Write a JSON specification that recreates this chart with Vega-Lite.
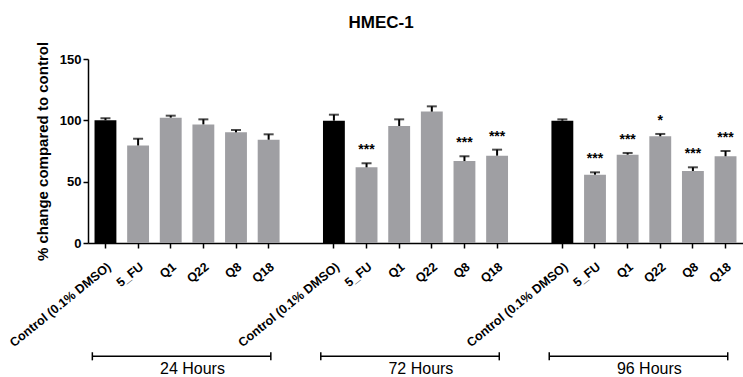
{
  "$schema": "https://vega.github.io/schema/vega-lite/v6.json",
  "padding": {"left": 7, "top": 14, "right": 0, "bottom": 0},
  "title": {"text": "HMEC-1", "font": "Liberation Sans", "fontSize": 17, "fontWeight": "bold", "color": "#000000", "anchor": "middle", "offset": 9, "dx": 6},
  "datasets": {
    "bars": [
      {"key": "Control (0.1% DMSO)|24", "treat": "Control (0.1% DMSO)", "time": "24 Hours", "mean": 100, "upper": 101.8, "sig": ""},
      {"key": "5_FU|24", "treat": "5_FU", "time": "24 Hours", "mean": 79.5, "upper": 85.0, "sig": ""},
      {"key": "Q1|24", "treat": "Q1", "time": "24 Hours", "mean": 102.2, "upper": 103.8, "sig": ""},
      {"key": "Q22|24", "treat": "Q22", "time": "24 Hours", "mean": 96.7, "upper": 100.8, "sig": ""},
      {"key": "Q8|24", "treat": "Q8", "time": "24 Hours", "mean": 90.2, "upper": 92.1, "sig": ""},
      {"key": "Q18|24", "treat": "Q18", "time": "24 Hours", "mean": 84.2, "upper": 88.6, "sig": ""},
      {"key": "Control (0.1% DMSO)|72", "treat": "Control (0.1% DMSO)", "time": "72 Hours", "mean": 99.7, "upper": 104.6, "sig": ""},
      {"key": "5_FU|72", "treat": "5_FU", "time": "72 Hours", "mean": 61.7, "upper": 65.0, "sig": "***"},
      {"key": "Q1|72", "treat": "Q1", "time": "72 Hours", "mean": 95.4, "upper": 100.8, "sig": ""},
      {"key": "Q22|72", "treat": "Q22", "time": "72 Hours", "mean": 107.1, "upper": 111.4, "sig": ""},
      {"key": "Q8|72", "treat": "Q8", "time": "72 Hours", "mean": 66.8, "upper": 70.7, "sig": "***"},
      {"key": "Q18|72", "treat": "Q18", "time": "72 Hours", "mean": 71.2, "upper": 76.1, "sig": "***"},
      {"key": "Control (0.1% DMSO)|96", "treat": "Control (0.1% DMSO)", "time": "96 Hours", "mean": 99.7, "upper": 100.8, "sig": ""},
      {"key": "5_FU|96", "treat": "5_FU", "time": "96 Hours", "mean": 55.7, "upper": 57.6, "sig": "***"},
      {"key": "Q1|96", "treat": "Q1", "time": "96 Hours", "mean": 72.0, "upper": 73.4, "sig": "***"},
      {"key": "Q22|96", "treat": "Q22", "time": "96 Hours", "mean": 87.0, "upper": 88.9, "sig": "*"},
      {"key": "Q8|96", "treat": "Q8", "time": "96 Hours", "mean": 58.7, "upper": 61.7, "sig": "***"},
      {"key": "Q18|96", "treat": "Q18", "time": "96 Hours", "mean": 70.7, "upper": 75.0, "sig": "***"}
    ],
    "brackets": [
      {"time": "24 Hours", "from": "Control (0.1% DMSO)|24", "to": "Q18|24", "mid": "Q22|24"},
      {"time": "72 Hours", "from": "Control (0.1% DMSO)|72", "to": "Q18|72", "mid": "Q22|72"},
      {"time": "96 Hours", "from": "Control (0.1% DMSO)|96", "to": "Q18|96", "mid": "Q22|96"}
    ]
  },
  "spacing": 0,
  "resolve": {"scale": {"x": "shared"}},
  "vconcat": [
    {
      "width": 655,
      "height": 184,
      "data": {"name": "bars"},
      "encoding": {
        "x": {
          "field": "key", "type": "nominal", "sort": null,
          "scale": {
            "domain": ["Control (0.1% DMSO)|24", "5_FU|24", "Q1|24", "Q22|24", "Q8|24", "Q18|24", "gap1",
                       "Control (0.1% DMSO)|72", "5_FU|72", "Q1|72", "Q22|72", "Q8|72", "Q18|72", "gap2",
                       "Control (0.1% DMSO)|96", "5_FU|96", "Q1|96", "Q22|96", "Q8|96", "Q18|96"],
            "paddingInner": 0.33, "paddingOuter": 0.2
          },
          "axis": {
            "title": null,
            "values": ["Control (0.1% DMSO)|24", "5_FU|24", "Q1|24", "Q22|24", "Q8|24", "Q18|24",
                       "Control (0.1% DMSO)|72", "5_FU|72", "Q1|72", "Q22|72", "Q8|72", "Q18|72",
                       "Control (0.1% DMSO)|96", "5_FU|96", "Q1|96", "Q22|96", "Q8|96", "Q18|96"],
            "labelExpr": "split(datum.label, '|')[0]",
            "labelAngle": -39,
            "labelFontSize": 12.5,
            "labelPadding": 12
          }
        }
      },
      "layer": [
        {
          "mark": {"type": "bar"},
          "encoding": {
            "y": {
              "field": "mean", "type": "quantitative",
              "scale": {"domain": [0, 150], "nice": false},
              "axis": {"values": [0, 50, 100, 150], "title": "% change compared to control", "titleFontSize": 15, "labelFontSize": 13, "titlePadding": 9}
            },
            "color": {"condition": {"test": "datum.treat === 'Control (0.1% DMSO)'", "value": "#000000"}, "value": "#9f9fa3"}
          }
        },
        {
          "mark": {"type": "rule", "color": "#000000", "strokeWidth": 2},
          "encoding": {"y": {"field": "mean", "type": "quantitative"}, "y2": {"field": "upper"}}
        },
        {
          "mark": {"type": "tick", "color": "#000000", "size": 10, "thickness": 2},
          "encoding": {"y": {"field": "upper", "type": "quantitative"}}
        },
        {
          "transform": [{"filter": "datum.sig != ''"}],
          "mark": {"type": "text", "font": "Liberation Sans", "fontSize": 14, "fontWeight": "bold", "color": "#000000", "baseline": "alphabetic", "dy": -9},
          "encoding": {"y": {"field": "upper", "type": "quantitative"}, "text": {"field": "sig"}}
        }
      ]
    },
    {
      "width": 655,
      "height": 27,
      "data": {"name": "brackets"},
      "layer": [
        {
          "mark": {"type": "rule", "color": "#000000", "strokeWidth": 1.5},
          "encoding": {
            "x": {"field": "from", "type": "nominal", "bandPosition": -0.1, "axis": null},
            "x2": {"field": "to", "bandPosition": 0.6},
            "y": {"datum": 7.3, "type": "quantitative", "scale": {"domain": [0, 10]}, "axis": null}
          }
        },
        {
          "mark": {"type": "rule", "color": "#000000", "strokeWidth": 1.5},
          "encoding": {
            "x": {"field": "from", "type": "nominal", "bandPosition": -0.1, "axis": null},
            "y": {"datum": 5.8, "type": "quantitative", "axis": null},
            "y2": {"datum": 8.8}
          }
        },
        {
          "mark": {"type": "rule", "color": "#000000", "strokeWidth": 1.5},
          "encoding": {
            "x": {"field": "to", "type": "nominal", "bandPosition": 0.6, "axis": null},
            "y": {"datum": 5.8, "type": "quantitative", "axis": null},
            "y2": {"datum": 8.8}
          }
        },
        {
          "mark": {"type": "text", "font": "Liberation Sans", "fontSize": 16, "color": "#000000", "baseline": "middle", "align": "center"},
          "encoding": {
            "x": {"field": "mid", "type": "nominal", "bandPosition": 0, "axis": null},
            "y": {"datum": 2.6, "type": "quantitative", "axis": null},
            "text": {"field": "time"}
          }
        }
      ]
    }
  ],
  "config": {
    "view": {"stroke": null},
    "axis": {
      "grid": false,
      "domainColor": "#000000", "domainWidth": 1.5,
      "tickColor": "#000000", "tickWidth": 1.5, "tickSize": 5,
      "labelColor": "#000000", "labelFont": "Liberation Sans", "labelFontWeight": "bold",
      "titleColor": "#000000", "titleFont": "Liberation Sans", "titleFontWeight": "bold"
    }
  }
}
